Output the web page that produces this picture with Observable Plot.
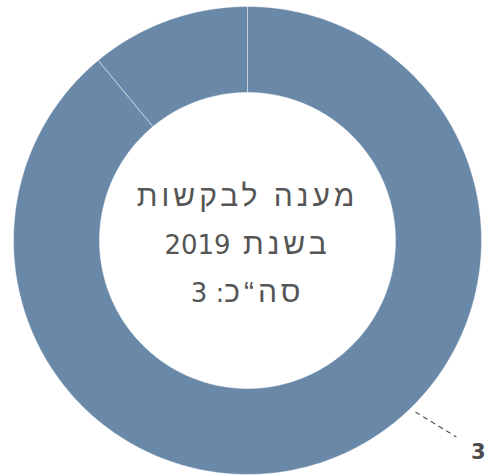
<!DOCTYPE html>
<html>
<head>
<meta charset="utf-8">
<script src="https://cdn.jsdelivr.net/npm/d3@7"></script>
<script src="https://cdn.jsdelivr.net/npm/@observablehq/plot@0.6"></script>
<style>
  html, body { margin: 0; padding: 0; background: #fff; }
  #chart { width: 489px; height: 476px; }
</style>
</head>
<body>
<div id="chart"></div>
<script>
// ---- data ----
const sliceNames = ["מענה מלא", "אחר"];
const sliceValues = [2.67, 0.33];
const sliceLabels = ["3", ""];
const centerLines = ["מענה לבקשות", "בשנת 2019", "סה“כ: 3"];

// ---- layout constants (pixels) ----
const W = 489, H = 476;
const cx = 247, cy = 240;          // centre in page pixels
const rOuter = 234, rInner = 148;
const fill = "#6a89a9";
const textColor = "#555555";
const font = "DejaVu Sans, Verdana, sans-serif";
const hebrewFont = "Liberation Sans, Arial, sans-serif";
const hebrewSize = 30;
const hebrewSpacing = 4;

const pie = d3.pie().sort(null).value(d => d.value);
const arcs = pie(sliceNames.map((name, i) => ({name, value: sliceValues[i], label: sliceLabels[i]})));

// polygon points for each ring slice (data space: y up)
const polar = (r, a) => ({x: r * Math.sin(a), y: r * Math.cos(a)});
const pts = [];
for (const a of arcs) {
  const n = Math.max(4, Math.ceil((a.endAngle - a.startAngle) / 0.01));
  for (let k = 0; k <= n; k++) {
    const t = a.startAngle + (a.endAngle - a.startAngle) * k / n;
    pts.push({slice: a.data.name, ...polar(rOuter, t)});
  }
  for (let k = n; k >= 0; k--) {
    const t = a.startAngle + (a.endAngle - a.startAngle) * k / n;
    pts.push({slice: a.data.name, ...polar(rInner, t)});
  }
}

// label for the labelled slice, with a dashed leader line
const labelAngle = 135.6 * Math.PI / 180;
const labelled = arcs.filter(a => a.data.label !== "");
const leaders = labelled.map(a => {
  const p = polar(240, labelAngle);
  return {x1: p.x, y1: p.y, x2: p.x + 41, y2: p.y - 25, label: a.data.label};
});

const plot = Plot.plot({
  width: W,
  height: H,
  margin: 0,
  x: {domain: [-cx, W - cx], axis: null},
  y: {domain: [cy - H, cy], axis: null},
  style: {background: "#fff", overflow: "visible"},
  marks: [
    Plot.line(pts, {
      x: "x", y: "y", z: "slice",
      fill: fill, stroke: "#ffffff", strokeOpacity: 0.45, strokeWidth: 1,
      curve: "linear-closed"
    }),
    Plot.link(leaders, {
      x1: "x1", y1: "y1", x2: "x2", y2: "y2",
      stroke: "#555", strokeWidth: 1.2, strokeDasharray: "5,4"
    }),
    Plot.text(leaders, {
      x: d => d.x2 + 22, y: d => d.y2 - 22,
      text: "label", fontSize: 21, fontWeight: "bold", lineAnchor: "bottom",
      fill: "#4a4a4a", fontFamily: font
    }),
    Plot.text(centerLines, {
      x: () => 0, y: (d, i) => 35 - i * 48,
      text: d => d, fontSize: 26, fill: textColor, lineAnchor: "bottom",
      fontFamily: font, className: "center-label"
    })
  ]
});

// right-to-left text; Hebrew runs in a wider Hebrew face
plot.querySelectorAll("text").forEach(t => t.setAttribute("direction", "rtl"));
plot.querySelectorAll(".center-label text").forEach(t => {
  const s = t.textContent;
  const runs = s.match(/[\u0590-\u05FF\u201C ]+|[^\u0590-\u05FF\u201C ]+/g) || [];
  t.textContent = "";
  for (const r of runs) {
    const ts = document.createElementNS("http://www.w3.org/2000/svg", "tspan");
    ts.textContent = r;
    if (/[\u0590-\u05FF]/.test(r)) {
      ts.setAttribute("letter-spacing", hebrewSpacing);
      ts.setAttribute("font-family", hebrewFont);
      ts.setAttribute("font-size", hebrewSize);
    }
    t.appendChild(ts);
  }
});
document.getElementById("chart").appendChild(plot);
</script>
</body>
</html>
